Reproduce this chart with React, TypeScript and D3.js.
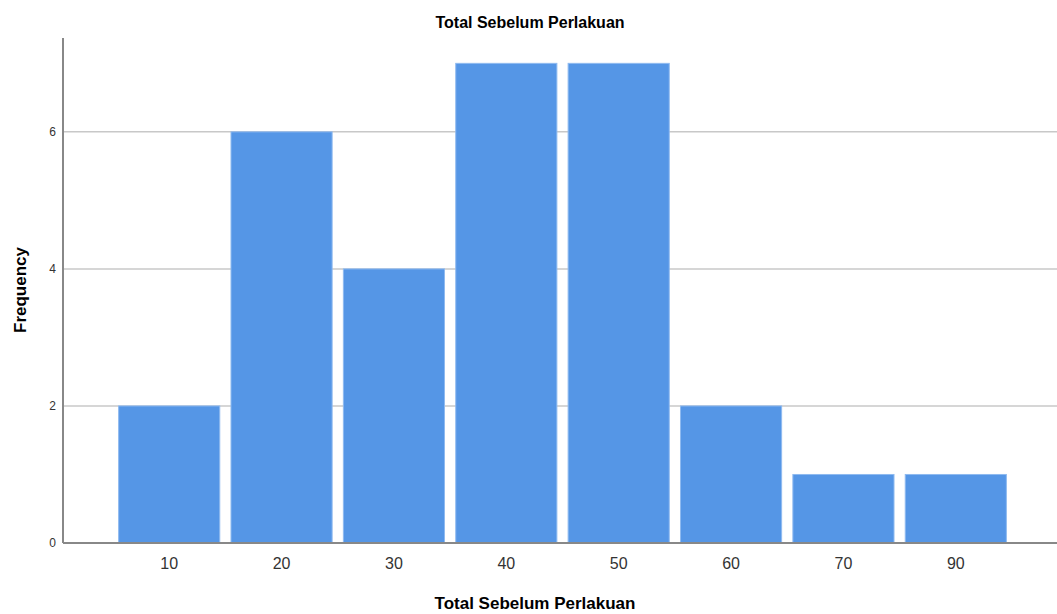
import React from 'react';
import * as d3 from 'd3';

const categories = ['10', '20', '30', '40', '50', '60', '70', '90'];
const frequencies = [2, 6, 4, 7, 7, 2, 1, 1];
const yTicks = [0, 2, 4, 6];

const W = 1057;
const H = 614;
const plot = { left: 63, right: 1057, top: 38, bottom: 543 };
const font = '"Liberation Sans", Arial, sans-serif';

export default function App() {
  const x = d3.scaleBand<string>()
    .domain(categories)
    .range([113, 1012])
    .paddingInner(0.1)
    .paddingOuter(0.05);

  const y = d3.scaleLinear()
    .domain([0, 7.37])
    .range([plot.bottom, plot.top]);

  return (
    <svg width={W} height={H} style={{ position: 'absolute', left: 0, top: 0 }}>
      <rect width={W} height={H} fill="#fff" />
      <text x={530} y={28} textAnchor="middle" fontFamily={font} fontWeight="bold" fontSize={16} fill="#000">
        Total Sebelum Perlakuan
      </text>

      {/* grid */}
      {yTicks.filter(t => t > 0).map(t => (
        <line key={t} x1={plot.left} x2={plot.right} y1={y(t)} y2={y(t)} stroke="#c8c8c8" strokeWidth={1.5} />
      ))}

      {/* bars */}
      {categories.map((c, i) => (
        <rect
          key={c}
          x={x(c)}
          y={y(frequencies[i])}
          width={x.bandwidth()}
          height={y(0) - y(frequencies[i])}
          fill="#5596e6"
          stroke="#8fbaf0"
          strokeWidth={1}
        />
      ))}

      {/* axes */}
      <line x1={plot.left} x2={plot.left} y1={plot.top} y2={plot.bottom} stroke="#888" strokeWidth={2} />
      <line x1={plot.left} x2={plot.right} y1={plot.bottom} y2={plot.bottom} stroke="#888" strokeWidth={2} />

      {yTicks.map(t => (
        <text key={t} x={56} y={y(t) + 4} textAnchor="end" fontFamily={font} fontSize={12} fill="#333">
          {t}
        </text>
      ))}

      {categories.map(c => (
        <text key={c} x={(x(c) ?? 0) + x.bandwidth() / 2} y={569} textAnchor="middle" fontFamily={font} fontSize={16} fill="#333">
          {c}
        </text>
      ))}

      <text x={535} y={609} textAnchor="middle" fontFamily={font} fontWeight="bold" fontSize={17} fill="#000">
        Total Sebelum Perlakuan
      </text>
      <text transform="translate(26,290) rotate(-90)" textAnchor="middle" fontFamily={font} fontWeight="bold" fontSize={17} fill="#000">
        Frequency
      </text>
    </svg>
  );
}
